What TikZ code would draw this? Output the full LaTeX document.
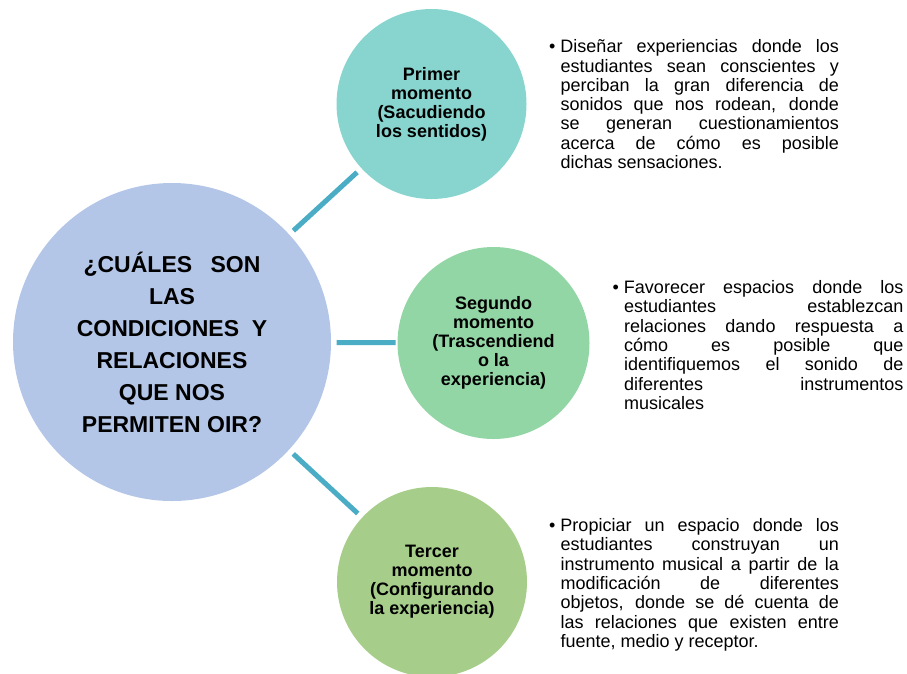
\documentclass[tikz,border=0pt]{standalone}
\usepackage{fontspec}
\setmainfont{Liberation Sans}
\definecolor{cBig}{HTML}{B4C6E7}
\definecolor{cOne}{HTML}{87D5CE}
\definecolor{cTwo}{HTML}{93D6A6}
\definecolor{cThree}{HTML}{A6CE8A}
\definecolor{cLine}{HTML}{4BACC6}
\tikzset{
  circnode/.style={circle, draw=none, inner sep=0pt, outer sep=0pt, align=center, text=black},
  bigcirc/.style={circnode, fill=cBig, minimum size=318pt, font=\bfseries\fontsize{23}{32}\selectfont},
  smallcirc/.style={circnode, minimum size=190pt, font=\bfseries\fontsize{18}{19}\selectfont},
  link/.style={draw=cLine, line width=5pt},
  desc/.style={anchor=north west, inner sep=0pt, outer sep=0pt, text width=290pt, align=justify, font=\fontsize{18}{19.3}\selectfont}
}
\newcommand{\bul}{\noindent\hangindent=11.5pt\hangafter=1 \tolerance=10000 \hyphenpenalty=10000 \rightskip=0pt\parfillskip=0pt plus 1fil\strut\makebox[11.5pt][l]{\textbullet}}
\begin{document}
\begin{tikzpicture}[x=1pt,y=-1pt]
\useasboundingbox (0,0) rectangle (907,673);
\node[bigcirc] (q) at (172,342) {¿CUÁLES\hspace{0.8em}SON\\LAS\\CONDICIONES\hspace{0.55em}Y\\RELACIONES\\QUE NOS\\PERMITEN OIR?};
\node[smallcirc, fill=cOne] (m1) at (431.5,104) {Primer\\momento\\(Sacudiendo\\los sentidos)};
\node[smallcirc, fill=cTwo, minimum size=192pt] (m2) at (493.5,343) {Segundo\\momento\\(Trascendiend\\o la\\experiencia)};
\node[smallcirc, fill=cThree] (m3) at (432,582) {Tercer\\momento\\(Configurando\\la experiencia)};
\draw[link, shorten <=5.7pt, shorten >=6pt] (q) -- (m1);
\draw[link, shorten <=5.7pt, shorten >=2pt] (q) -- (m2);
\draw[link, shorten <=6pt, shorten >=6pt] (q) -- (m3);
\node[desc] (t1) at (549,39.2) {\bul Diseñar experiencias donde los\linebreak estudiantes sean conscientes y\linebreak perciban la gran diferencia de\linebreak sonidos que nos rodean, donde\linebreak se generan cuestionamientos\linebreak acerca de cómo es posible\linebreak dichas sensaciones.\par};
\node[desc, text width=291pt] (t2) at (612.5,280) {\bul Favorecer espacios donde los\linebreak estudiantes establezcan\linebreak relaciones dando respuesta a\linebreak cómo es posible que\linebreak identifiquemos el sonido de\linebreak diferentes instrumentos\linebreak musicales\par};
\node[desc] (t3) at (549,518) {\bul Propiciar un espacio donde los\linebreak estudiantes construyan un\linebreak instrumento musical a partir de la\linebreak modificación de diferentes\linebreak objetos, donde se dé cuenta de\linebreak las relaciones que existen entre\linebreak fuente, medio y receptor.\par};
\end{tikzpicture}
\end{document}
